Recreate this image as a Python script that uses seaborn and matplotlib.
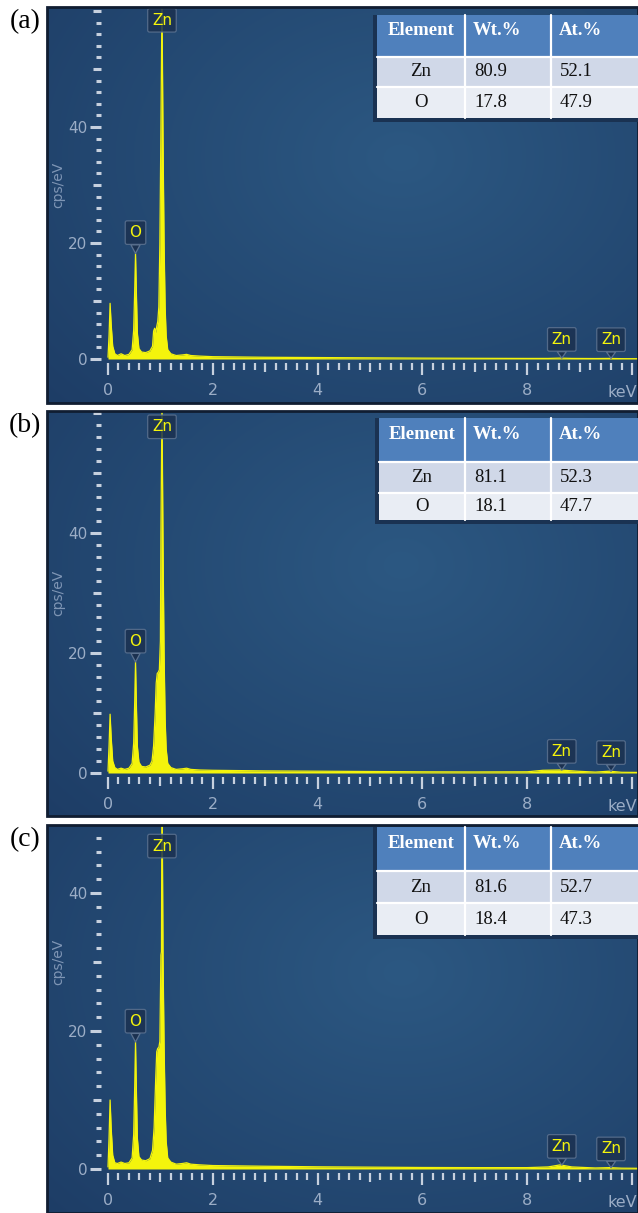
import numpy as np
import matplotlib
matplotlib.use("Agg")
import matplotlib.pyplot as plt
import seaborn as sns
from matplotlib.patches import Rectangle
from matplotlib.ticker import FixedLocator, FuncFormatter

# ---------------- data ----------------
energy_a = [0.00, 0.02, 0.04, 0.06, 0.09, 0.13, 0.18, 0.25, 0.32, 0.40, 0.46, 0.49, 0.51, 0.525, 0.54,
            0.56, 0.59, 0.64, 0.72, 0.80, 0.85, 0.87, 0.89, 0.91, 0.93, 0.95, 0.97, 0.99, 1.01, 1.03,
            1.05, 1.07, 1.09, 1.11, 1.14, 1.20, 1.30, 1.42, 1.50, 1.58, 1.75, 2.00, 2.50, 3.00, 4.00,
            5.00, 6.00, 7.00, 8.00, 8.40, 8.63, 8.85, 9.30, 9.57, 9.80, 10.10]
counts_a = [0.3, 4.0, 9.6, 6.0, 2.2, 0.9, 0.6, 0.9, 0.6, 0.8, 1.6, 5.0, 12.0, 18.2, 12.0,
            4.5, 1.8, 1.2, 1.1, 1.4, 2.2, 4.8, 5.3, 4.6, 5.6, 6.5, 9.0, 20.0, 40.0, 62.0,
            38.0, 20.0, 9.0, 4.0, 1.6, 0.9, 0.6, 0.7, 0.8, 0.6, 0.5, 0.4, 0.35, 0.3, 0.25,
            0.2, 0.15, 0.12, 0.1, 0.1, 0.15, 0.1, 0.08, 0.1, 0.06, 0.05]

energy_b = [0.00, 0.02, 0.04, 0.06, 0.09, 0.13, 0.18, 0.25, 0.32, 0.40, 0.46, 0.49, 0.51, 0.525, 0.54,
            0.56, 0.59, 0.64, 0.72, 0.80, 0.84, 0.87, 0.90, 0.92, 0.94, 0.96, 0.98, 1.00, 1.01, 1.03,
            1.05, 1.07, 1.09, 1.11, 1.14, 1.20, 1.30, 1.42, 1.50, 1.58, 1.75, 2.00, 2.50, 3.00, 4.00,
            5.00, 6.00, 7.00, 8.00, 8.30, 8.63, 8.95, 9.30, 9.57, 9.80, 10.10]
counts_b = [0.3, 4.5, 9.8, 6.0, 2.0, 0.9, 0.6, 0.8, 0.6, 0.8, 1.6, 5.0, 12.0, 18.5, 12.0,
            4.5, 1.8, 1.1, 1.0, 1.3, 2.0, 4.5, 10.0, 15.0, 16.6, 16.8, 17.2, 22.0, 40.0, 62.0,
            38.0, 20.0, 9.0, 4.0, 1.6, 0.9, 0.6, 0.7, 0.8, 0.6, 0.5, 0.45, 0.4, 0.35, 0.3,
            0.25, 0.2, 0.18, 0.2, 0.45, 0.5, 0.3, 0.15, 0.3, 0.12, 0.1]

energy_c = [0.00, 0.02, 0.04, 0.06, 0.09, 0.13, 0.18, 0.25, 0.32, 0.40, 0.46, 0.49, 0.51, 0.525, 0.54,
            0.56, 0.59, 0.64, 0.72, 0.80, 0.85, 0.88, 0.91, 0.93, 0.95, 0.97, 0.99, 1.01, 1.02, 1.03,
            1.05, 1.07, 1.09, 1.11, 1.14, 1.20, 1.30, 1.42, 1.50, 1.58, 1.75, 2.00, 2.50, 3.00, 4.00,
            5.00, 6.00, 7.00, 8.00, 8.40, 8.63, 8.85, 9.30, 9.57, 9.80, 10.10]
counts_c = [0.3, 4.5, 10.0, 6.0, 2.0, 0.9, 0.8, 1.0, 0.8, 0.9, 1.6, 5.0, 12.0, 18.4, 12.0,
            4.5, 1.8, 1.3, 1.2, 1.5, 2.7, 6.0, 13.0, 17.0, 17.5, 17.6, 18.5, 31.0, 31.5, 58.0,
            31.0, 18.0, 9.0, 4.0, 1.6, 1.0, 0.7, 0.8, 0.9, 0.7, 0.6, 0.5, 0.45, 0.4, 0.32,
            0.27, 0.22, 0.2, 0.2, 0.3, 0.6, 0.3, 0.15, 0.2, 0.12, 0.1]

panel_letters = ["(a)", "(b)", "(c)"]
table_header = ["Element", "Wt.%", "At.%"]
table_elements = ["Zn", "O"]
wt_a, at_a = [80.9, 17.8], [52.1, 47.9]
wt_b, at_b = [81.1, 18.1], [52.3, 47.7]
wt_c, at_c = [81.6, 18.4], [52.7, 47.3]
peak_elements = ["Zn", "O", "Zn", "Zn"]
peak_kev = [1.03, 0.525, 8.66, 9.60]
x_tick_values = [0, 2, 4, 6, 8, 10]
x_tick_labels = ["0", "2", "4", "6", "8", "keV"]
y_tick_values = [0, 20, 40]
y_tick_labels = ["0", "20", "40"]
y_axis_label = "cps/eV"

spectra = [(energy_a, counts_a), (energy_b, counts_b), (energy_c, counts_c)]
tables = [(wt_a, at_a), (wt_b, at_b), (wt_c, at_c)]

# ---------------- layout (pixels of the 638x1213 reference) ----------------
W, H = 638, 1213
X0, XS = 108.0, 52.4            # pixel of 0 keV, pixels per keV
FRAME_L, FRAME_R = 47, 638
layout = [
    dict(top=7, bot=403, y0=359, ys=5.8, letter_y=22, tag_y=58.4,
         table=(377, [15, 57, 87, 118])),
    dict(top=411, bot=816, y0=773, ys=6.0, letter_y=426, tag_y=57.7,
         table=(379, [418, 462, 493, 520])),
    dict(top=825, bot=1213, y0=1169, ys=6.9, letter_y=840, tag_y=46.8,
         table=(377, [827, 871, 903, 935])),
]
COL2, COL3 = 465, 551

YELLOW = "#f4f40c"
TICK_C = "#c6d0de"
LAB_C = "#9badc6"
TAG_FC = "#1b3150"
TAG_EC = "#5c7290"

sns.set_style("white")
NARROW = ["Liberation Sans Narrow", "DejaVu Sans Condensed", "DejaVu Sans"]
plt.rcParams["font.family"] = NARROW

fig = plt.figure(figsize=(W / 100, H / 100), dpi=100)
fig.patch.set_facecolor("white")


def fx(px):
    return px / W


def fy(py):
    return 1 - py / H


# background gradient (styling only)
gy, gx = np.mgrid[0:1:200j, 0:1:200j]
dist = np.sqrt(((gx - 0.6) / 0.85) ** 2 + ((gy - 0.38) / 0.95) ** 2)
t = np.clip(dist, 0, 1)[..., None]
c_in = np.array([44, 88, 130]) / 255
c_out = np.array([29, 60, 101]) / 255
bg_img = c_in * (1 - t) + c_out * t

for i, (lay, (E, C), (wt, at)) in enumerate(zip(layout, spectra, tables)):
    ax = fig.add_axes([fx(FRAME_L), fy(lay["bot"]), fx(FRAME_R) - fx(FRAME_L),
                       (lay["bot"] - lay["top"]) / H])
    xlim = ((FRAME_L - X0) / XS, (FRAME_R - X0) / XS)
    ylim = ((lay["y0"] - lay["bot"]) / lay["ys"], (lay["y0"] - lay["top"]) / lay["ys"])
    ax.imshow(bg_img, extent=(xlim[0], xlim[1], ylim[0], ylim[1]), aspect="auto",
              zorder=0, interpolation="bilinear")
    ax.set_xlim(xlim)
    ax.set_ylim(ylim)

    # spectrum
    ax.fill_between(E, 0, C, color=YELLOW, lw=0, zorder=3)
    sns.lineplot(x=E, y=C, ax=ax, color=YELLOW, lw=0.9, zorder=4, sort=False)

    # axes / ticks
    for s in ax.spines.values():
        s.set_visible(False)
    ax.spines["left"].set_position(("data", (100.5 - X0) / XS))
    ax.spines["bottom"].set_position(("data", -4.0 / lay["ys"]))

    xmaj = list(range(0, 11))
    ax.xaxis.set_major_locator(FixedLocator(xmaj))
    ax.xaxis.set_minor_locator(FixedLocator(np.round(np.arange(0, 10.01, 0.2), 2)))
    xlab_map = dict(zip(x_tick_values[:-1], x_tick_labels[:-1]))
    ax.xaxis.set_major_formatter(FuncFormatter(lambda v, p: xlab_map.get(int(round(v)), "")))
    ax.tick_params(axis="x", which="both", bottom=True, top=False)
    ax.tick_params(axis="y", which="both", left=True, right=False)
    ax.tick_params(axis="x", which="major", direction="out", length=8.6, width=1.6,
                   color=TICK_C, pad=5.5, labelsize=11.5, labelcolor=LAB_C)
    ax.tick_params(axis="x", which="minor", direction="out", length=5.0, width=1.6,
                   color=TICK_C)

    ytop = ylim[1]
    ymaj = [v for v in range(0, 61, 10) if v <= ytop]
    ax.yaxis.set_major_locator(FixedLocator(ymaj))
    ax.yaxis.set_minor_locator(FixedLocator(np.arange(0, ytop, 2)))
    ylab_map = dict(zip(y_tick_values, y_tick_labels))
    ax.yaxis.set_major_formatter(FuncFormatter(lambda v, p: ylab_map.get(int(round(v)), "")))
    ax.tick_params(axis="y", which="major", direction="out", length=8.0, width=2.2,
                   color=TICK_C, pad=1.5, labelsize=11, labelcolor=LAB_C)
    ax.tick_params(axis="y", which="minor", direction="out", length=3.8, width=2.2,
                   color=TICK_C)
    for tk, loc in zip(ax.xaxis.get_major_ticks(), xmaj):
        if loc % 2 == 1:
            tk.tick1line.set_markersize(6.4)
    for tk, loc in zip(ax.yaxis.get_major_ticks(), ymaj):
        if loc not in y_tick_values:
            tk.tick1line.set_markersize(5.5)
    ax.set_xlabel("")
    ax.set_ylabel("")
    # unit label at the 10 keV tick position (kept inside the picture)
    ax.annotate(x_tick_labels[-1], xy=(x_tick_values[-1], -4.0 / lay["ys"]),
                xytext=(4, -21), textcoords="offset points", ha="right", va="center",
                color=LAB_C, fontsize=11.5, annotation_clip=False)
    ax.text((58 - X0) / XS, 30, y_axis_label, rotation=90, ha="center", va="center",
            color="#7f96b5", fontsize=10, family=["DejaVu Sans"])

    # peak tags
    tag_kw = dict(ha="center", va="center", color=YELLOW, fontsize=11, zorder=6,
                  bbox=dict(boxstyle="round,pad=0.28,rounding_size=0.12", fc=TAG_FC,
                            ec=TAG_EC, lw=0.9, alpha=0.85))
    for el, ek in zip(peak_elements, peak_kev):
        if ek == peak_kev[0]:
            ax.annotate(el, xy=(ek, lay["tag_y"]), xytext=(0, 0),
                        textcoords="offset points", **tag_kw)
        else:
            tip = float(np.interp(ek, E, C))
            dy = 15.0 if el == "O" else 13.5
            ax.annotate(el, xy=(ek, tip), xytext=(0, dy), textcoords="offset points",
                        arrowprops=dict(arrowstyle="wedge,tail_width=0.6,shrink_factor=0.5",
                                        fc=TAG_FC, ec=TAG_EC, lw=0.9, shrinkA=0, shrinkB=0),
                        **tag_kw)

    # frame border
    ax.add_patch(Rectangle((0, 0), 1, 1, transform=ax.transAxes, fill=False,
                           ec="#101d31", lw=2.0, zorder=10, clip_on=False))

    # panel letter
    fig.text(fx(25), fy(lay["letter_y"]), panel_letters[i], ha="center", va="center",
             fontsize=20, family=["Liberation Serif", "DejaVu Serif"], color="black")

    # composition table
    left, rows = lay["table"]
    top, hdr, r1, r2 = rows
    right = W + 2
    fig.add_artist(Rectangle((fx(left - 4), fy(r2 + 4)), fx(right) - fx(left - 4), (r2 + 4 - top) / H,
                             transform=fig.transFigure, fc="#1a3252", ec="none", zorder=20))
    fills = [(top, hdr, "#4f80bc"), (hdr, r1, "#d0d8e8"), (r1, r2, "#e9edf4")]
    for (ya, yb, colr) in fills:
        fig.add_artist(Rectangle((fx(left), fy(yb)), fx(right) - fx(left), (yb - ya) / H,
                                 transform=fig.transFigure, fc=colr, ec="none", zorder=21))
    for xv in (COL2, COL3):
        fig.add_artist(plt.Line2D([fx(xv), fx(xv)], [fy(top), fy(r2)], transform=fig.transFigure,
                                  color="white", lw=1.6, zorder=22))
    for yv in (hdr, r1):
        fig.add_artist(plt.Line2D([fx(left), fx(right)], [fy(yv), fy(yv)], transform=fig.transFigure,
                                  color="white", lw=1.6, zorder=22))
    serif = ["Liberation Serif", "DejaVu Serif"]
    hy = fy(top + 0.38 * (hdr - top))
    fig.text(fx((left + COL2) / 2), hy, table_header[0], ha="center", va="center",
             color="white", fontsize=13.5, fontweight="bold", family=serif, zorder=23)
    fig.text(fx(473), hy, table_header[1], ha="left", va="center",
             color="white", fontsize=13.5, fontweight="bold", family=serif, zorder=23)
    fig.text(fx(559), hy, table_header[2], ha="left", va="center",
             color="white", fontsize=13.5, fontweight="bold", family=serif, zorder=23)
    for (ya, yb), el, w_, a_ in zip([(hdr, r1), (r1, r2)], table_elements, wt, at):
        ry = fy((ya + yb) / 2)
        fig.text(fx((left + COL2) / 2), ry, el, ha="center", va="center", color="#111111",
                 fontsize=13.5, family=serif, zorder=23)
        fig.text(fx(474), ry, f"{w_:.1f}", ha="left", va="center", color="#111111",
                 fontsize=13.5, family=serif, zorder=23)
        fig.text(fx(560), ry, f"{a_:.1f}", ha="left", va="center", color="#111111",
                 fontsize=13.5, family=serif, zorder=23)

fig.savefig("out.png", dpi=100)
